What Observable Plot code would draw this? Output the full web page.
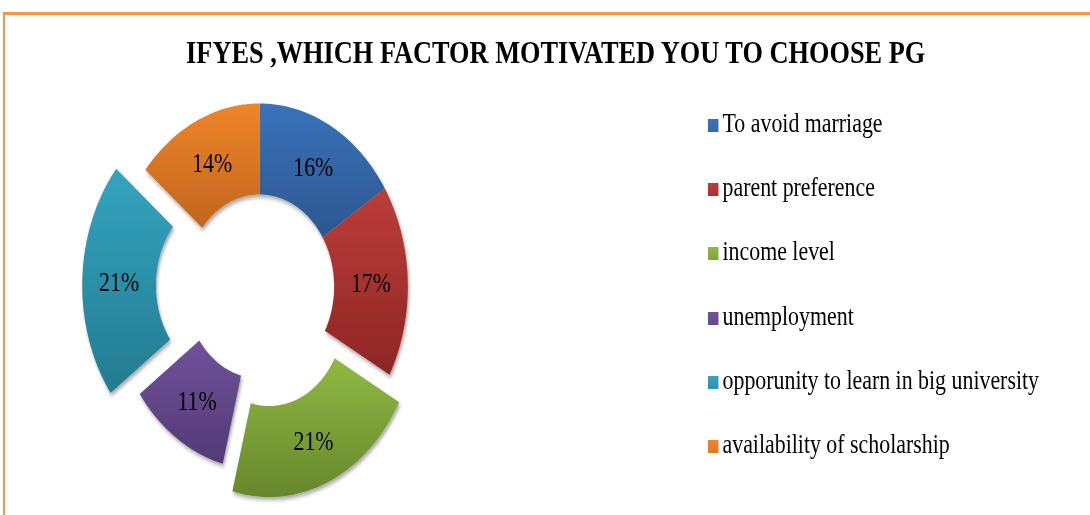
<!DOCTYPE html>
<html><head><meta charset="utf-8">
<script src="https://cdn.jsdelivr.net/npm/d3@7"></script>
<script src="https://cdn.jsdelivr.net/npm/@observablehq/plot@0.6"></script>
<style>
html,body{margin:0;padding:0;background:#fff;overflow:hidden;width:1090px;height:515px;}
#frame{position:absolute;left:3px;top:12px;width:1090px;height:520px;border-top:3px solid #F79646;border-left:2px solid #F79646;box-sizing:border-box;pointer-events:none;}
#stage{position:absolute;left:0;top:0;width:1346px;height:515px;transform:scaleX(0.81);transform-origin:0 0;font-family:"Liberation Serif","Times New Roman",serif;color:#000;}
#title{position:absolute;left:0;width:1372px;top:36px;text-align:center;font-weight:bold;font-size:32.5px;line-height:32px;white-space:nowrap;}
#chart{position:absolute;left:0;top:0;}
.item{position:absolute;left:874px;font-size:27px;line-height:26px;white-space:nowrap;}
.sw{position:absolute;left:0;top:9px;width:13px;height:13px;}
.lb{position:absolute;left:18px;top:0;}
</style>
</head><body>
<div id="stage">
  <div id="title"></div>
  <div id="chart"></div>
  <div id="legend"></div>
</div>
<div id="frame"></div>
<script>
// ---- data ----
const titleText = "IFYES ,WHICH FACTOR MOTIVATED YOU TO CHOOSE PG";
const categories = ["To avoid marriage", "parent preference", "income level", "unemployment", "opporunity to learn in big university", "availability of scholarship"];
const shares = [16, 17, 21, 11, 21, 14];

// ---- style ----
const topColors = ["#3a72ba", "#bd3d39", "#90b944", "#70529b", "#34a4c0", "#ef852b"];
const bottomColors = ["#2c5790", "#8d2624", "#66872c", "#523a74", "#237b90", "#c0651c"];
const legendColors = ["#3567ab", "#ab3431", "#7fa53b", "#644a8c", "#2e93ad", "#e07a25"];
const explodeBy = {"income level": 30, "opporunity to learn in big university": 36};
const R = 183, r = 92;

document.getElementById("title").textContent = titleText;

const rows = categories.map((c, i) => ({category: c, share: shares[i], idx: i}));
const arcs = d3.pie().sort(null).value(d => d.share).startAngle(0).endAngle(2 * Math.PI)(rows);

const pts = [];
const labels = [];
arcs.forEach(p => {
  const i = p.data.idx;
  const a0 = p.startAngle, a1 = p.endAngle, mid = (a0 + a1) / 2;
  const e = explodeBy[p.data.category] || 0;
  const ox = e * Math.sin(mid), oy = e * Math.cos(mid);
  const n = 80;
  for (let k = 0; k <= n; k++) {
    const a = a0 + (a1 - a0) * k / n;
    pts.push({key: i, x: ox + R * Math.sin(a), y: oy + R * Math.cos(a), fill: `url(#g${i})`});
  }
  for (let k = n; k >= 0; k--) {
    const a = a0 + (a1 - a0) * k / n;
    pts.push({key: i, x: ox + r * Math.sin(a), y: oy + r * Math.cos(a), fill: `url(#g${i})`});
  }
  const rm = (R + r) / 2;
  labels.push({x: ox + rm * Math.sin(mid), y: oy + rm * Math.cos(mid), text: p.data.share + "%"});
});

const plot = Plot.plot({
  width: 640,
  height: 515,
  margin: 0,
  x: {domain: [-320, 320], axis: null},
  y: {domain: [-229, 286], axis: null},
  color: {type: "identity"},
  style: {fontFamily: "'Liberation Serif','Times New Roman',serif", background: "transparent", overflow: "visible"},
  marks: [
    Plot.line(pts, {x: "x", y: "y", z: "key", fill: "fill", stroke: "none", curve: "linear-closed"}),
    Plot.text(labels, {x: "x", y: "y", text: "text", fontSize: 27, fill: "#000", dy: 1})
  ]
});

const ns = "http://www.w3.org/2000/svg";
const defs = document.createElementNS(ns, "defs");
let html = `<filter id="sh" x="-20%" y="-20%" width="140%" height="150%"><feDropShadow dx="1.5" dy="3" stdDeviation="2.2" flood-color="#000" flood-opacity="0.35"/></filter>`;
topColors.forEach((c, i) => {
  html += `<linearGradient id="g${i}" x1="0" y1="0" x2="0" y2="1"><stop offset="0" stop-color="${c}"/><stop offset="1" stop-color="${bottomColors[i]}"/></linearGradient>`;
});
defs.innerHTML = html;
plot.insertBefore(defs, plot.firstChild);
const lineG = plot.querySelector('g[aria-label="line"]');
if (lineG) lineG.setAttribute("filter", "url(#sh)");
document.getElementById("chart").appendChild(plot);

const legend = document.getElementById("legend");
categories.forEach((c, i) => {
  const it = document.createElement("div");
  it.className = "item";
  it.style.top = (110 + i * 64.2) + "px";
  it.innerHTML = `<div class="sw" style="background:linear-gradient(${topColors[i]},${legendColors[i]})"></div><div class="lb"></div>`;
  it.querySelector(".lb").textContent = c;
  legend.appendChild(it);
});
</script>
</body></html>
